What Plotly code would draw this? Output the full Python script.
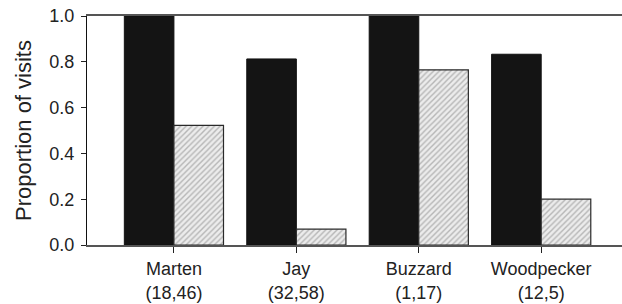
import plotly.graph_objects as go

categories = ["Marten", "Jay", "Buzzard", "Woodpecker"]
counts = ["(18,46)", "(32,58)", "(1,17)", "(12,5)"]
series_a = [1.0, 0.8125, 1.0, 0.833]
series_b = [0.522, 0.069, 0.765, 0.2]
y_ticks = [0.0, 0.2, 0.4, 0.6, 0.8, 1.0]

x_idx = list(range(len(categories)))
tick_text = [f"{c}<br>{n}" for c, n in zip(categories, counts)]

fig = go.Figure()
fig.add_trace(go.Bar(
    x=x_idx, y=series_a,
    marker=dict(color="#141414", line=dict(color="#111111", width=1)),
    showlegend=False,
))
fig.add_trace(go.Bar(
    x=x_idx, y=series_b,
    marker=dict(
        color="#ececec",
        line=dict(color="#2a2a2a", width=1.2),
        pattern=dict(shape="/", fgcolor="#808080", bgcolor="#ececec", size=4, solidity=0.35),
    ),
    showlegend=False,
))

font_family = "Liberation Sans, Arial, Helvetica, sans-serif"

fig.update_layout(
    width=622, height=304,
    margin=dict(l=87, r=0, t=16, b=59),
    paper_bgcolor="white", plot_bgcolor="white",
    barmode="group", bargap=0.19, bargroupgap=0,
    font=dict(family=font_family, color="#222222"),
)
fig.update_xaxes(
    automargin=False,
    range=[-0.71, 3.66],
    tickmode="array", tickvals=x_idx, ticktext=tick_text,
    tickfont=dict(size=18, color="#222222"),
    ticks="outside", ticklen=6, tickcolor="#222222", tickwidth=1,
    ticklabelstandoff=1, ticklabeloverflow="allow",
    showline=True, linecolor="#555555", linewidth=1.6, mirror=True,
    showgrid=False, zeroline=False,
)
fig.update_yaxes(
    automargin=False,
    range=[0, 1.0],
    tickmode="array", tickvals=y_ticks, ticktext=[f"{v:.1f}" for v in y_ticks],
    tickfont=dict(size=18, color="#222222"),
    ticks="outside", ticklen=5, tickcolor="#222222", tickwidth=1,
    ticklabelstandoff=3, ticklabeloverflow="allow",
    showline=True, linecolor="#111111", linewidth=1,
    showgrid=False, zeroline=False,
    title=dict(text="Proportion of visits", font=dict(size=22, color="#222222"), standoff=11),
)

# remove the browser's default 8px page margin so the figure fills the window
fig.write_html(
    "out.html",
    config={"displayModeBar": False},
    post_script="document.body.style.margin='0';document.body.style.overflow='hidden';",
)
